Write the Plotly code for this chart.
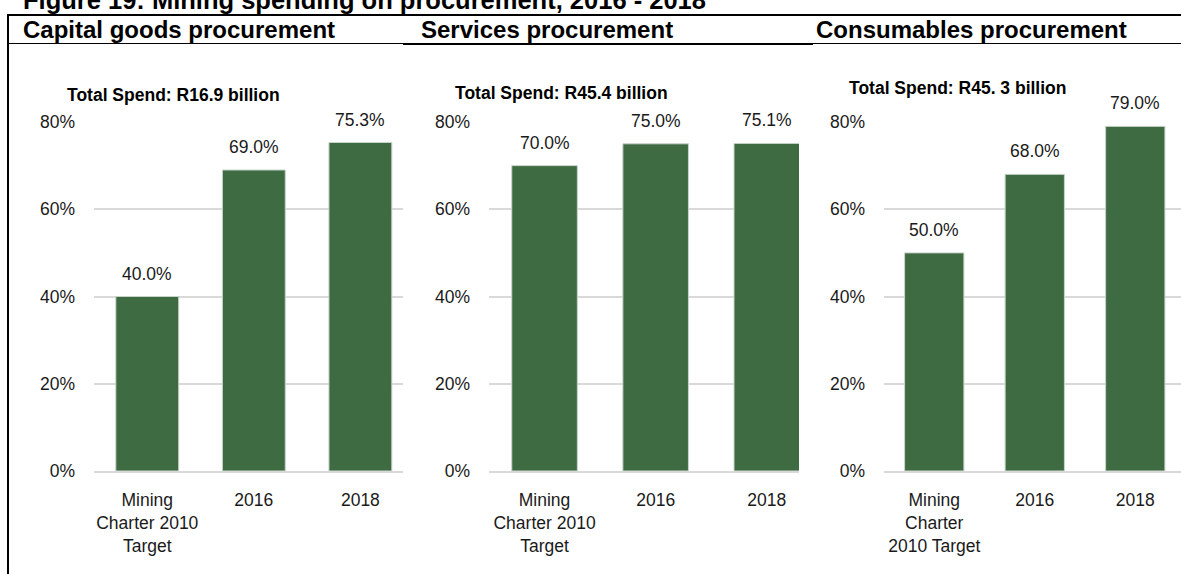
import plotly.graph_objects as go

# Procurement share by category (per cent)
categories = ["Mining Charter 2010 Target", "2016", "2018"]
capital_goods = [40.0, 69.0, 75.3]
services = [70.0, 75.0, 75.1]
consumables = [50.0, 68.0, 79.0]

tick_text_capital = ["Mining<br>Charter 2010<br>Target", "2016", "2018"]
tick_text_services = ["Mining<br>Charter 2010<br>Target", "2016", "2018"]
tick_text_consumables = ["Mining<br>Charter<br>2010 Target", "2016", "2018"]

panel_titles = ["Capital goods procurement", "Services procurement", "Consumables procurement"]
spend_labels = ["Total Spend: R16.9 billion", "Total Spend: R45.4 billion", "Total Spend: R45. 3 billion"]
figure_title = "Figure 19: Mining spending on procurement, 2016 - 2018"

y_tick_vals = [0, 20, 40, 60, 80]
y_tick_text = ["0%", "20%", "40%", "60%", "80%"]

W, H = 1181, 574
FONT = "Liberation Sans, Arial, sans-serif"
BAR = "#3e6b42"
GRID = "#d9d9d9"
TEXT = "#1a1a1a"


def px(x):
    return x / W


def py(y):
    return 1 - y / H


panels = [
    dict(values=capital_goods, ticks=tick_text_capital, dom=(94, 403), rng=(-0.5, 2.4), spend_x=65, spend_y=95),
    dict(values=services, ticks=tick_text_services, dom=(489, 799), rng=(-0.5, 2.29), spend_x=453, spend_y=93),
    dict(values=consumables, ticks=tick_text_consumables, dom=(884, 1181), rng=(-0.5, 2.455), spend_x=847, spend_y=88),
]
header_x = [21, 419, 814]

fig = go.Figure()
annotations = []

for i, p in enumerate(panels):
    n = "" if i == 0 else str(i + 1)
    xa, ya = "x" + n, "y" + n
    positions = list(range(len(categories)))
    fig.add_trace(go.Bar(
        x=positions, y=p["values"], xaxis=xa, yaxis=ya,
        width=0.59, marker=dict(color=BAR, line=dict(color="#c9d4c9", width=1)),
        showlegend=False, hoverinfo="skip",
    ))
    for j, v in zip(positions, p["values"]):
        annotations.append(dict(
            x=j, y=v, xref=xa, yref=ya, text=f"{v:.1f}%", showarrow=False,
            yanchor="bottom", yshift=11, font=dict(family=FONT, size=17.5, color=TEXT),
        ))
    fig.update_layout(**{
        "xaxis" + n: dict(
            domain=[px(p["dom"][0]), px(p["dom"][1])], range=list(p["rng"]),
            anchor=ya, tickmode="array", tickvals=positions, ticktext=p["ticks"],
            showline=True, linecolor=GRID, linewidth=2, showgrid=False, zeroline=False,
            ticks="", ticklabelstandoff=12, automargin=False,
            tickfont=dict(family=FONT, size=17.5, color=TEXT), fixedrange=True,
        ),
        "yaxis" + n: dict(
            domain=[py(471), py(122)], range=[0, 80], anchor=xa,
            tickmode="array", tickvals=y_tick_vals, ticktext=y_tick_text, showgrid=True,
            gridcolor=GRID, gridwidth=1.5, zeroline=False, showline=False, ticks="",
            ticklabelstandoff=18, automargin=False,
            tickfont=dict(family=FONT, size=17.5, color=TEXT), fixedrange=True,
        ),
    })
    annotations.append(dict(
        x=px(p["spend_x"]), y=py(p["spend_y"]), xref="paper", yref="paper",
        xanchor="left", yanchor="middle", showarrow=False, text="<b>" + spend_labels[i] + "</b>",
        font=dict(family=FONT, size=17.5, color="#000000"),
    ))
    annotations.append(dict(
        x=px(header_x[i]), y=py(29), xref="paper", yref="paper",
        xanchor="left", yanchor="middle", showarrow=False, text="<b>" + panel_titles[i] + "</b>",
        font=dict(family=FONT, size=24, color="#000000"),
    ))

annotations.append(dict(
    x=px(21), y=py(0), xref="paper", yref="paper", xanchor="left", yanchor="middle",
    showarrow=False, text="<b>" + figure_title + "</b>",
    font=dict(family=FONT, size=25.5, color="#000000"),
))

# Table-style frame around the three panels
shapes = [
    dict(type="line", xref="paper", yref="paper", x0=px(7), x1=1, y0=py(15), y1=py(15),
         line=dict(color="#000000", width=2)),
    dict(type="line", xref="paper", yref="paper", x0=px(8), x1=px(8), y0=py(14), y1=0,
         line=dict(color="#000000", width=2)),
    dict(type="line", xref="paper", yref="paper", x0=px(8), x1=1, y0=py(43.5), y1=py(43.5),
         line=dict(color="#000000", width=1.2)),
    dict(type="line", xref="paper", yref="paper", x0=px(403), x1=px(813), y0=py(44), y1=py(44),
         line=dict(color="#000000", width=2.2)),
]

fig.update_layout(
    width=W, height=H, margin=dict(l=0, r=0, t=0, b=0, pad=0, autoexpand=False),
    paper_bgcolor="white", plot_bgcolor="white",
    annotations=annotations, shapes=shapes,
)

fig.write_html("out.html")
